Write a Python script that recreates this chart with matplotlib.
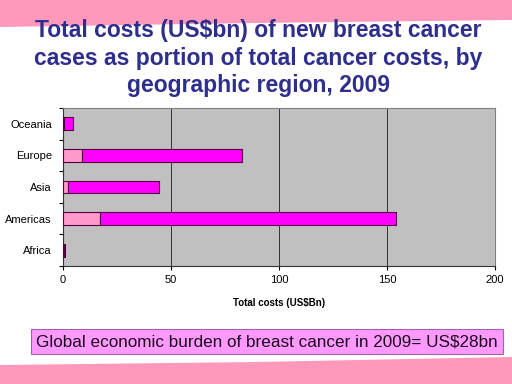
import numpy as np
import matplotlib.pyplot as plt
from matplotlib.patches import Polygon, Rectangle

plt.rcParams['font.family'] = ['Liberation Sans', 'DejaVu Sans']

# --- DATA ---
regions = ["Africa", "Americas", "Asia", "Europe", "Oceania"]
breast_costs = [0.3, 17.1, 2.2, 8.6, 0.5]
total_costs = [1.1, 154.0, 44.3, 83.0, 4.5]

other_costs = [t - b for t, b in zip(total_costs, breast_costs)]

fig = plt.figure(figsize=(5.12, 3.84), dpi=100)
fig.patch.set_facecolor("white")

# --- pink bands of the slide ---
top_band = Polygon([[0, 1], [1, 1], [1, 1 - 20/384], [0.5, 1 - 23/384], [0, 1 - 27/384]],
                   closed=True, transform=fig.transFigure, facecolor="#ff99bb",
                   edgecolor="none", zorder=0)
bot_band = Polygon([[0, 0], [1, 0], [1, 27/384], [0.5, 22/384], [0, 19/384]],
                   closed=True, transform=fig.transFigure, facecolor="#ff99bb",
                   edgecolor="none", zorder=0)
fig.patches.extend([top_band, bot_band])

# --- title ---
fig.text(0.505, 1 - 58/384,
         "Total costs (US$bn) of new breast cancer\ncases as portion of total cancer costs, by\ngeographic region, 2009",
         ha="center", va="center", fontsize=16.5, fontweight="bold", color="#2e2e8c",
         linespacing=1.25)

# --- chart ---
ax = fig.add_axes([63/512, 1 - 266/384, 432/512, 158/384])
ax.set_facecolor("#c0c0c0")
y = np.arange(len(regions))
h = 0.4
ax.barh(y, breast_costs, h, color="#ff99cc", edgecolor="#550044", linewidth=0.8, zorder=3)
ax.barh(y, other_costs, h, left=breast_costs, color="#ff00ff", edgecolor="#550044",
        linewidth=0.8, zorder=3)

ax.set_xlim(0, 200)
ax.set_ylim(-0.5, len(regions) - 0.5)
ax.set_xticks([0, 50, 100, 150, 200])
ax.tick_params(axis="x", labelsize=8, length=3, direction="out")
ax.grid(axis="x", color="#333333", linewidth=0.7, zorder=1)

ax.set_yticks(np.arange(-0.5, len(regions), 1))
ax.set_yticklabels([])
ax.set_yticks(y, minor=True)
ax.set_yticklabels(regions, minor=True, fontsize=8)
ax.tick_params(axis="y", which="major", length=3, direction="out")
ax.tick_params(axis="y", which="minor", length=0, pad=8)

for s in ["top", "right"]:
    ax.spines[s].set_color("#808080")
ax.spines["left"].set_color("#333333")
ax.spines["bottom"].set_color("#333333")

ax.set_xlabel("Total costs (US$Bn)", fontsize=7, fontweight="bold", labelpad=9)

# --- footer box ---
fig.patches.append(Rectangle((31/512, 1 - 354/384), 472/512, 25/384,
                             transform=fig.transFigure, facecolor="#ff99ff",
                             edgecolor="#9966aa", linewidth=0.8, zorder=1))
fig.text(267/512, 1 - 341.5/384, "Global economic burden of breast cancer in 2009= US$28bn",
         ha="center", va="center", fontsize=12.3, color="#1a0a1a")

plt.savefig("out.png", dpi=100)
